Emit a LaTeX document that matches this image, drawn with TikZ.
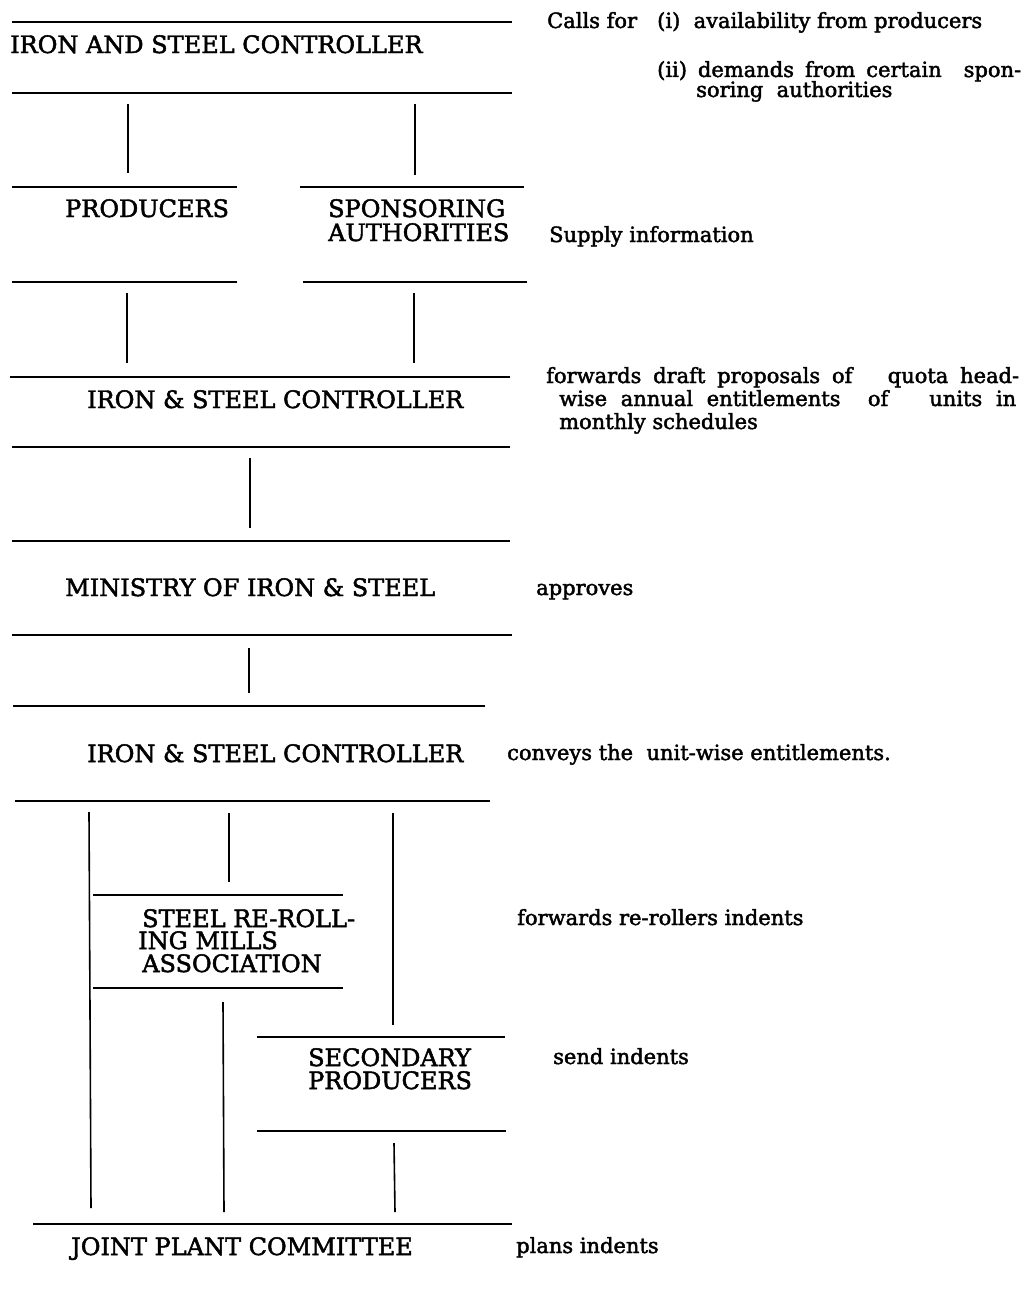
\documentclass[tikz,border=0pt]{standalone}
\usepackage{fontspec}
\setmainfont{DejaVu Serif}[FakeBold=2]
\begin{document}
\begin{tikzpicture}[x=1pt,y=-1pt,
  hline/.style={line width=1.8pt},
  conn/.style={line width=1.6pt},
  lbl/.style={anchor=base west, inner sep=0pt, font=\fontsize{24}{24}\selectfont},
  note/.style={anchor=base west, inner sep=0pt, font=\fontsize{21}{21}\selectfont}]
\useasboundingbox[fill=white] (0,0) rectangle (1024,1314);

% ---------- box rules ----------
\coordinate (t1a) at (12,22);   \coordinate (t1b) at (512,22);
\coordinate (b1a) at (12,93);   \coordinate (b1b) at (512,93);
\coordinate (t2a) at (12,187);  \coordinate (t2b) at (237,187);
\coordinate (b2a) at (12,282);  \coordinate (b2b) at (237,282);
\coordinate (t3a) at (300,187); \coordinate (t3b) at (524,187);
\coordinate (b3a) at (303,282); \coordinate (b3b) at (527,282);
\coordinate (t4a) at (10,377);  \coordinate (t4b) at (510,377);
\coordinate (b4a) at (12,447);  \coordinate (b4b) at (510,447);
\coordinate (t5a) at (12,541);  \coordinate (t5b) at (510,541);
\coordinate (b5a) at (12,635);  \coordinate (b5b) at (512,635);
\coordinate (t6a) at (13,706);  \coordinate (t6b) at (485,706);
\coordinate (b6a) at (15,801);  \coordinate (b6b) at (490,801);
\coordinate (t7a) at (93,895);  \coordinate (t7b) at (343,895);
\coordinate (b7a) at (93,988);  \coordinate (b7b) at (343,988);
\coordinate (t8a) at (257,1037); \coordinate (t8b) at (505,1037);
\coordinate (b8a) at (257,1131); \coordinate (b8b) at (506,1131);
\coordinate (t9a) at (33,1224); \coordinate (t9b) at (512,1224);

\foreach \r in {t1,b1,t2,b2,t3,b3,t4,b4,t5,b5,t6,b6,t7,b7,t8,b8,t9}
  \draw[hline] (\r a) -- (\r b);

% ---------- labels ----------
\node[lbl] (isc1) at (10,53) {IRON AND STEEL CONTROLLER};
\node[lbl] (prod) at (65,217) {PRODUCERS};
\node[lbl] (spon1) at (328,217) {SPONSORING};
\node[lbl] (spon2) at (328,241) {AUTHORITIES};
\node[lbl] (isc2) at (87,408) {IRON \& STEEL CONTROLLER};
\node[lbl] (mis) at (65,596) {MINISTRY OF IRON \& STEEL};
\node[lbl] (isc3) at (87,762) {IRON \& STEEL CONTROLLER};
\node[lbl] (srm1) at (142,927) {STEEL RE-ROLL-};
\node[lbl] (srm2) at (138,949) {ING MILLS};
\node[lbl] (srm3) at (142,972) {ASSOCIATION};
\node[lbl] (sec1) at (308,1066) {SECONDARY};
\node[lbl] (sec2) at (308,1089) {PRODUCERS};
\node[lbl] (jpc) at (71,1255) {JOINT PLANT COMMITTEE};

% ---------- notes ----------
\node[note] (n1a) at (547,28) {Calls for};
\node[note] (n1b) at (657,28) {(i)\ \ availability from producers};
\node[note] (n1c) at (657,77) {\makebox[364pt][s]{(ii) demands from certain\ \ spon-}};
\node[note] (n1d) at (696,97) {soring\ \ authorities};
\node[note] (n2) at (549,242) {Supply information};
\node[note] (n3a) at (546,383) {\makebox[473pt][s]{forwards draft proposals of\ \ \ quota head-}};
\node[note] (n3b) at (559,406) {\makebox[457pt][s]{wise annual entitlements\ \ of\ \ \ units in}};
\node[note] (n3c) at (559,429) {monthly schedules};
\node[note] (n4) at (536,595) {approves};
\node[note] (n5) at (507,760) {conveys the\ \ unit-wise entitlements.};
\node[note] (n6) at (517,925) {forwards re-rollers indents};
\node[note] (n7) at (553,1064) {send indents};
\node[note] (n8) at (516,1253) {plans indents};

% ---------- connectors ----------
\coordinate (c1s) at (128,104);  \coordinate (c1e) at (128,173);
\coordinate (c2s) at (415,104);  \coordinate (c2e) at (415,175);
\coordinate (c3s) at (127,293);  \coordinate (c3e) at (127,363);
\coordinate (c4s) at (414,293);  \coordinate (c4e) at (414,363);
\coordinate (c5s) at (250,458);  \coordinate (c5e) at (250,528);
\coordinate (c6s) at (249,648);  \coordinate (c6e) at (249,693);
\coordinate (c7s) at (89,812);   \coordinate (c7e) at (91,1208);
\coordinate (c8s) at (229,813);  \coordinate (c8e) at (229,882);
\coordinate (c9s) at (393,813);  \coordinate (c9e) at (393,1025);
\coordinate (c10s) at (223,1002); \coordinate (c10e) at (224,1212);
\coordinate (c11s) at (394,1143); \coordinate (c11e) at (395,1212);

\foreach \c in {c1,c2,c3,c4,c5,c6,c7,c8,c9,c10,c11}
  \draw[conn] (\c s) -- (\c e);
\end{tikzpicture}
\end{document}
